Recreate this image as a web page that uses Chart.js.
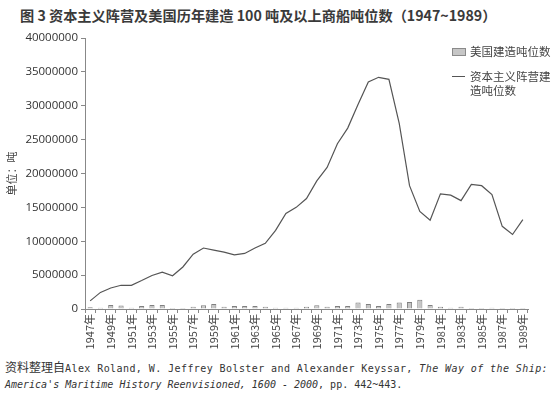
<!DOCTYPE html>
<html><head><meta charset="utf-8">
<script src="https://cdn.jsdelivr.net/npm/chart.js@4/dist/chart.umd.min.js"></script>
<style>
html,body{margin:0;padding:0;background:#fff;width:554px;height:394px;overflow:hidden;}
#title{position:absolute;left:20px;top:5px;font-family:"Noto Sans CJK SC";font-weight:700;font-size:14.2px;color:#3a3a3a;white-space:nowrap;}
#wrap{position:absolute;left:0;top:0;width:554px;height:355px;}
#legend{position:absolute;left:452px;top:44px;font-family:"Noto Sans CJK SC";font-size:11.5px;color:#444;line-height:14px;}
#legend .row{position:relative;padding-left:18px;margin-bottom:11px;}
#legend .box{position:absolute;left:0;top:4px;width:12px;height:6px;background:#c6c6c6;border:1px solid #8a8a8a;}
#legend .ln{position:absolute;left:0;top:7px;width:13px;height:1px;background:#555;}
#src{position:absolute;left:5px;top:359px;font-family:"DejaVu Sans Mono","Noto Sans CJK SC";font-size:10px;color:#333;line-height:16px;white-space:nowrap;}
#src .cjk{font-family:"Noto Sans CJK SC";font-size:12px;}
#src .l1{letter-spacing:0.42px;}
</style></head><body>
<div id="title">图 3 资本主义阵营及美国历年建造 100 吨及以上商船吨位数（1947~1989）</div>
<div id="wrap"><canvas id="c"></canvas></div>
<div id="legend">
<div class="row"><span class="box"></span>美国建造吨位数</div>
<div class="row"><span class="ln"></span>资本主义阵营建<br>造吨位数</div>
</div>
<div id="src"><span class="cjk">资料整理自</span><span class="l1">Alex Roland, W. Jeffrey Bolster and Alexander Keyssar, <i>The Way of the Ship:</i></span><br><i>America's Maritime History Reenvisioned, 1600 - 2000</i>, pp. 442~443.</div>
<script>
const years = [];
for (let y = 1947; y <= 1989; y++) years.push(y + '年');
const usTonnage = [250000,200000,600000,500000,200000,450000,600000,600000,150000,150000,350000,550000,750000,350000,
  450000,450000,450000,350000,200000,200000,200000,350000,550000,350000,450000,450000,950000,750000,
  450000,750000,950000,1050000,1350000,600000,350000,200000,350000,150000,150000,200000,150000,150000,150000];
const capitalistTonnage = [1200000,2450000,3100000,3500000,3500000,4200000,4950000,5450000,4900000,6200000,8100000,9000000,8700000,8400000,
  8000000,8200000,9000000,9700000,11600000,14100000,15000000,16300000,18900000,20900000,24400000,26700000,30200000,33500000,
  34200000,33900000,27400000,18200000,14400000,13100000,17000000,16800000,16000000,18400000,18200000,16900000,12200000,11000000,13200000];
const yTicks = [0,5000000,10000000,15000000,20000000,25000000,30000000,35000000,40000000];

new Chart(document.getElementById('c'), {
  data: {
    labels: years,
    datasets: [
      {type:'line', label:'资本主义阵营建造吨位数', data: capitalistTonnage, borderColor:'#555', borderWidth:1.2, pointRadius:0, tension:0, fill:false},
      {type:'bar', label:'美国建造吨位数', data: usTonnage, backgroundColor:'#c6c6c6', borderColor:'#808080', borderWidth:1, barPercentage:0.5, categoryPercentage:1}
    ]
  },
  options: {
    responsive:true, maintainAspectRatio:false, animation:false,
    layout:{padding:{top:38,right:26,left:0,bottom:0}},
    plugins:{legend:{display:false}, tooltip:{enabled:false}},
    scales:{
      x:{
        offset:true,
        grid:{display:true, offset:true, drawOnChartArea:false, tickLength:4, color:'#888'},
        border:{color:'#888'},
        ticks:{autoSkip:false, maxRotation:90, minRotation:90, padding:1, color:'#444',
          font:{family:'"Noto Sans CJK SC"', size:11},
          callback:function(v,i){return i%2===0 ? this.getLabelForValue(v) : '';}},
        afterFit:function(s){s.height=46;}
      },
      y:{
        min:0, max:40000000,
        afterBuildTicks:function(s){s.ticks = yTicks.map(v=>({value:v}));},
        grid:{display:true, drawOnChartArea:false, tickLength:4, color:'#888'},
        border:{color:'#888'},
        ticks:{padding:3, color:'#333', font:{family:'"Open Sans"', size:11.5}, callback:function(v){return String(v);}},
        title:{display:true, text:'单位：吨', color:'#444', font:{family:'"Noto Sans CJK SC"', size:11}, padding:{top:5,bottom:0}},
        afterFit:function(s){s.width=85;}
      }
    }
  }
});
</script>
</body></html>
